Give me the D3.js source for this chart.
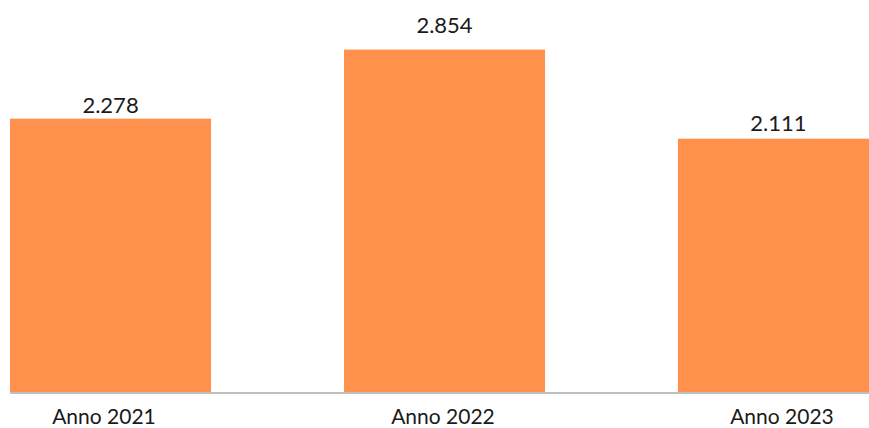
<!DOCTYPE html>
<html>
<head>
<meta charset="utf-8">
<script src="https://cdn.jsdelivr.net/npm/d3@7"></script>
<style>
  html, body { margin: 0; padding: 0; background: #fff; }
  svg { display: block; }
  text { font-family: "Lato", "Liberation Sans", sans-serif; fill: #1a1a1a; }
</style>
</head>
<body>
<svg id="chart" width="869" height="428"></svg>
<script>
const categories = ["Anno 2021", "Anno 2022", "Anno 2023"];
const values = [2278, 2854, 2111];
const valueLabels = ["2.278", "2.854", "2.111"];

const svg = d3.select("#chart");
const W = 869, baseY = 392;
// gap between a bar top and its value label, as placed in the reference
const labelGap = { "Anno 2021": 6, "Anno 2022": 17, "Anno 2023": 8 };

const x = d3.scaleBand().domain(categories).range([10, 879]).paddingInner(0.398).paddingOuter(0);
const xLabel = d3.scaleBand().domain(categories).range([-65.5, 951.5]);
const y = d3.scaleLinear().domain([0, 3267]).range([baseY, 0]);

svg.selectAll("rect.bar").data(values).join("rect")
  .attr("class", "bar")
  .attr("x", (d, i) => x(categories[i]))
  .attr("width", x.bandwidth())
  .attr("y", d => y(d))
  .attr("height", d => y(0) - y(d))
  .attr("fill", "#ff914d");

svg.selectAll("text.val").data(values).join("text")
  .attr("class", "val")
  .attr("x", (d, i) => x(categories[i]) + x.bandwidth() / 2)
  .attr("y", (d, i) => y(d) - labelGap[categories[i]])
  .attr("text-anchor", "middle")
  .attr("font-size", 22)
  .text((d, i) => valueLabels[i]);

// baseline axis
svg.append("line")
  .attr("x1", 10).attr("x2", W)
  .attr("y1", baseY + 1).attr("y2", baseY + 1)
  .attr("stroke", "#bfbfbf").attr("stroke-width", 2);

const axis = d3.axisBottom(xLabel).tickSize(0).tickPadding(0);
const g = svg.append("g").attr("transform", `translate(0,${baseY})`).call(axis);
g.select(".domain").remove();
g.selectAll("text")
  .attr("y", 32)
  .attr("dy", 0)
  .attr("font-size", 21)
  .style("font-family", "Lato, 'Liberation Sans', sans-serif")
  .attr("fill", "#1a1a1a");
</script>
</body>
</html>
